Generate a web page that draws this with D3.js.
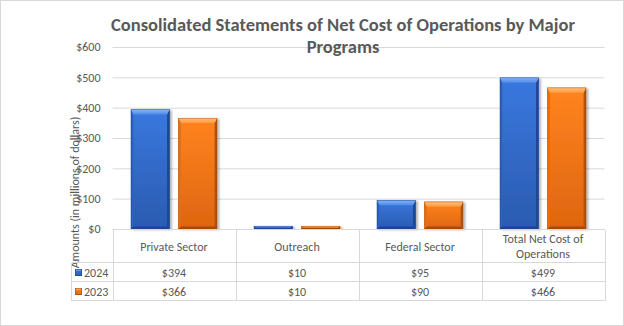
<!DOCTYPE html>
<html>
<head>
<meta charset="utf-8">
<script src="https://cdn.jsdelivr.net/npm/d3@7"></script>
<style>
  html, body { margin: 0; padding: 0; background: #fff; }
  svg { display: block; }
  text { font-family: Carlito, Calibri, Lato, "Open Sans", sans-serif; fill: #595959; }
</style>
</head>
<body>
<svg id="chart" width="624" height="326"></svg>
<script>
// ---- data ----
const titleText = "Consolidated Statements of Net Cost of Operations by Major Programs";
const yAxisTitle = "Amounts (in millions of dollars)";
const categories = ["Private Sector", "Outreach", "Federal Sector", "Total Net Cost of Operations"];
const seriesNames = ["2024", "2023"];
const values2024 = [394, 10, 95, 499];
const values2023 = [366, 10, 90, 466];
const yTicks = [0, 100, 200, 300, 400, 500, 600];

const seriesValues = [values2024, values2023];

// ---- layout ----
const W = 624, H = 326;
const plotLeft = 112.5, plotRight = 604.5, plotTop = 47, plotBottom = 229;
const tableLeft = 71.5;
const headerBottom = 262, row1Bottom = 281, row2Bottom = 300;

const svg = d3.select("#chart");
svg.append("rect").attr("x", 0.5).attr("y", 0.5).attr("width", W - 1).attr("height", H - 1)
  .attr("fill", "#fff").attr("stroke", "#d9d9d9");

const defs = svg.append("defs");
function grad(id, stops, vertical = true) {
  const g = defs.append("linearGradient").attr("id", id)
    .attr("x1", 0).attr("y1", 0).attr("x2", vertical ? 0 : 1).attr("y2", vertical ? 1 : 0);
  stops.forEach(([o, c]) => g.append("stop").attr("offset", o).attr("stop-color", c));
}
const palette = {
  "2024": { body: ["#3a78df", "#2a5bb0"], top: ["#86b6f7", "#4f8ae8"], left: "#2d62bf", right: "#1f4794", bottom: "#1e4590", stroke: "#1d4388" },
  "2023": { body: ["#ff8420", "#de650f"], top: ["#ffc07e", "#ff9a3f"], left: "#e86e10", right: "#b0520a", bottom: "#a64b08", stroke: "#9c4606" }
};
seriesNames.forEach((s, i) => {
  grad("body" + i, [[0, palette[s].body[0]], [1, palette[s].body[1]]]);
  grad("top" + i, [[0, palette[s].top[0]], [1, palette[s].top[1]]]);
});
const f = defs.append("filter").attr("id", "shadow").attr("x", "-20%").attr("y", "-10%").attr("width", "150%").attr("height", "130%");
f.append("feDropShadow").attr("dx", 2).attr("dy", 1).attr("stdDeviation", 1.2)
  .attr("flood-color", "#000").attr("flood-opacity", 0.3);

// ---- scales ----
const x0 = d3.scaleBand().domain(categories).range([plotLeft, plotRight]).paddingInner(0).paddingOuter(0);
const x1 = d3.scaleBand().domain(seriesNames).range([0, x0.bandwidth()]).paddingInner(0.187).paddingOuter(0.387);
const y = d3.scaleLinear().domain([0, 600]).range([plotBottom, plotTop]);

// ---- gridlines + y axis ----
const yAxis = d3.axisLeft(y).tickValues(yTicks).tickFormat(d => "$" + d)
  .tickSize(-(plotRight - plotLeft)).tickPadding(12);
const ya = svg.append("g").attr("transform", `translate(${plotLeft},0)`).call(yAxis);
ya.select(".domain").remove();
ya.selectAll(".tick line").attr("stroke", "#d9d9d9");
ya.selectAll(".tick text").attr("fill", "#595959").style("font-size", "12px")
  .style("font-family", "Carlito, Calibri, Lato, sans-serif");

// ---- title ----
const titleG = svg.append("g");
const words = titleText.split(" ");
const line1 = words.slice(0, words.length - 1).join(" ");
const line2 = words[words.length - 1];
const t1 = titleG.append("text").attr("x", 343).attr("y", 30.5).attr("text-anchor", "middle")
  .style("font-size", "18.5px").style("font-weight", "bold").text(line1);
const t2 = titleG.append("text").attr("x", 343).attr("y", 52.5).attr("text-anchor", "middle")
  .style("font-size", "18.5px").style("font-weight", "bold").text(line2);
const n1 = t1.node().getComputedTextLength();
const ratio = 469 / n1;
if (ratio < 0.98) {
  t1.attr("textLength", 469).attr("lengthAdjust", "spacingAndGlyphs");
  t2.attr("textLength", t2.node().getComputedTextLength() * ratio).attr("lengthAdjust", "spacingAndGlyphs");
}

// ---- y axis title ----
const yt = svg.append("text").attr("transform", `translate(79,192.5) rotate(-90)`)
  .attr("text-anchor", "middle").style("font-size", "12px").text(yAxisTitle);
const ytl = yt.node().getComputedTextLength();
if (ytl > 155) yt.attr("textLength", 151).attr("lengthAdjust", "spacingAndGlyphs");

// ---- bars ----
function bevelBar(g, x, yTop, w, h, si) {
  const p = palette[seriesNames[si]];
  const bt = Math.min(5, h / 2), bs = Math.min(2.5, w / 2), bb = Math.min(2.5, h / 2);
  const grp = g.append("g").attr("filter", "url(#shadow)");
  grp.append("rect").attr("x", x).attr("y", yTop).attr("width", w).attr("height", h)
    .attr("fill", `url(#body${si})`);
  // left
  grp.append("polygon").attr("points", [[x, yTop], [x + bs, yTop + bt], [x + bs, yTop + h - bb], [x, yTop + h]].join(" "))
    .attr("fill", p.left);
  // right
  grp.append("polygon").attr("points", [[x + w, yTop], [x + w - bs, yTop + bt], [x + w - bs, yTop + h - bb], [x + w, yTop + h]].join(" "))
    .attr("fill", p.right);
  // bottom
  grp.append("polygon").attr("points", [[x, yTop + h], [x + bs, yTop + h - bb], [x + w - bs, yTop + h - bb], [x + w, yTop + h]].join(" "))
    .attr("fill", p.bottom);
  // top bevel
  grp.append("polygon").attr("points", [[x, yTop], [x + w, yTop], [x + w - bs, yTop + bt], [x + bs, yTop + bt]].join(" "))
    .attr("fill", `url(#top${si})`);
  grp.append("rect").attr("x", x + 0.25).attr("y", yTop + 0.25).attr("width", w - 0.5).attr("height", Math.max(0, h - 0.5))
    .attr("fill", "none").attr("stroke", p.stroke).attr("stroke-width", 0.5).attr("stroke-opacity", 0.8);
}

const barsG = svg.append("g");
categories.forEach((c, ci) => {
  seriesNames.forEach((s, si) => {
    const v = seriesValues[si][ci];
    const bx = x0(c) + x1(s);
    const by = y(v);
    bevelBar(barsG, bx, by, x1.bandwidth(), y(0) - by, si);
  });
});

// ---- data table ----
const tbl = svg.append("g").attr("stroke", "#d9d9d9").attr("stroke-width", 1).attr("shape-rendering", "crispEdges");
const hy = [plotBottom + 0.5, headerBottom + 0.5, row1Bottom + 0.5, row2Bottom + 0.5];
tbl.append("line").attr("x1", plotLeft).attr("x2", plotRight).attr("y1", hy[0]).attr("y2", hy[0]);
[hy[1], hy[2], hy[3]].forEach(yy => tbl.append("line").attr("x1", tableLeft).attr("x2", plotRight).attr("y1", yy).attr("y2", yy));
const colXs = categories.map(c => x0(c)).concat([x0(categories[categories.length - 1]) + x0.bandwidth()]);
colXs.forEach(cx => {
  const xx = Math.round(cx) + 0.5;
  tbl.append("line").attr("x1", xx).attr("x2", xx).attr("y1", hy[0]).attr("y2", hy[3]);
});
tbl.append("line").attr("x1", tableLeft).attr("x2", tableLeft).attr("y1", hy[1]).attr("y2", hy[3]);

// header labels, wrapped
const headG = svg.append("g");
categories.forEach(c => {
  const cx = x0(c) + x0.bandwidth() / 2;
  const maxW = x0.bandwidth() - 10;
  const ws = c.split(" ");
  const lines = [];
  let cur = "";
  const probe = headG.append("text").style("font-size", "12px");
  ws.forEach(wd => {
    const test = cur ? cur + " " + wd : wd;
    probe.text(test);
    if (probe.node().getComputedTextLength() > maxW && cur) { lines.push(cur); cur = wd; }
    else cur = test;
  });
  lines.push(cur);
  probe.remove();
  const lh = 15.5;
  const midY = (plotBottom + headerBottom) / 2 + 1;
  lines.forEach((ln, i) => {
    headG.append("text").attr("x", cx).attr("y", midY + (i - (lines.length - 1) / 2) * lh)
      .attr("dy", "0.35em").attr("text-anchor", "middle").style("font-size", "12px").text(ln);
  });
});

// rows
const rowTops = [headerBottom, row1Bottom];
const rowBots = [row1Bottom, row2Bottom];
seriesNames.forEach((s, si) => {
  const cy = (rowTops[si] + rowBots[si]) / 2 + 1;
  // legend key
  const k = svg.append("g");
  const kx = 75, ky = cy - 3.5, kw = 7, kh = 7;
  bevelBarKey(k, kx, ky, kw, kh, si);
  svg.append("text").attr("x", 84).attr("y", cy).attr("dy", "0.35em").style("font-size", "12px").text(s);
  categories.forEach((c, ci) => {
    svg.append("text").attr("x", x0(c) + x0.bandwidth() / 2).attr("y", cy).attr("dy", "0.35em")
      .attr("text-anchor", "middle").style("font-size", "12px").text("$" + seriesValues[si][ci]);
  });
});
function bevelBarKey(g, x, yTop, w, h, si) {
  const p = palette[seriesNames[si]];
  g.append("rect").attr("x", x).attr("y", yTop).attr("width", w).attr("height", h).attr("fill", `url(#body${si})`);
  g.append("polygon").attr("points", [[x, yTop], [x + w, yTop], [x + w - 1.5, yTop + 2], [x + 1.5, yTop + 2]].join(" "))
    .attr("fill", `url(#top${si})`);
  g.append("rect").attr("x", x + 0.25).attr("y", yTop + 0.25).attr("width", w - 0.5).attr("height", h - 0.5)
    .attr("fill", "none").attr("stroke", p.stroke).attr("stroke-width", 0.5);
}
</script>
</body>
</html>
